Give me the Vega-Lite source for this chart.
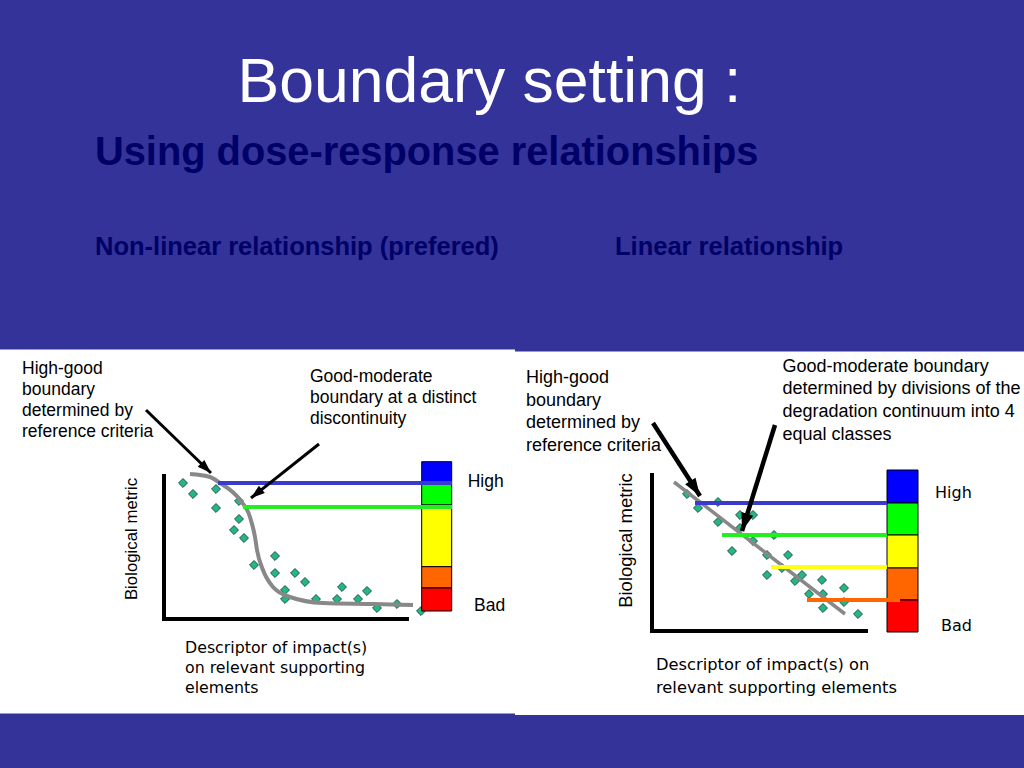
{
  "$schema": "https://vega.github.io/schema/vega-lite/v6.json",
  "width": 1024,
  "height": 768,
  "padding": 0,
  "autosize": "none",
  "background": "#333399",
  "config": {"view": {"stroke": null}},
  "datasets": {
    "panels": [
      {"x": 0, "x2": 515, "y": 349.5, "y2": 713.5},
      {"x": 515, "x2": 1024, "y": 351.5, "y2": 715}
    ],
    "axes": [
      {"x": 164, "x2": 164, "y": 474, "y2": 621},
      {"x": 162, "x2": 409, "y": 619, "y2": 619},
      {"x": 652, "x2": 652, "y": 473, "y2": 633},
      {"x": 650, "x2": 868, "y": 631, "y2": 631}
    ],
    "scatter": [
      {"x": 183, "y": 483}, {"x": 193, "y": 494}, {"x": 216, "y": 489}, {"x": 216, "y": 508},
      {"x": 239, "y": 501}, {"x": 239, "y": 519}, {"x": 234, "y": 530}, {"x": 244, "y": 538},
      {"x": 254, "y": 565}, {"x": 275, "y": 556}, {"x": 275, "y": 573}, {"x": 295, "y": 573},
      {"x": 305, "y": 582}, {"x": 285, "y": 590}, {"x": 285, "y": 599}, {"x": 316, "y": 599},
      {"x": 337, "y": 599}, {"x": 342, "y": 587}, {"x": 358, "y": 599}, {"x": 367, "y": 591},
      {"x": 377, "y": 608}, {"x": 397, "y": 604}, {"x": 421, "y": 611},
      {"x": 687, "y": 494}, {"x": 698, "y": 508}, {"x": 718, "y": 502}, {"x": 718, "y": 522},
      {"x": 740, "y": 515}, {"x": 753, "y": 515}, {"x": 740, "y": 528}, {"x": 732, "y": 551},
      {"x": 753, "y": 541}, {"x": 774, "y": 535}, {"x": 767, "y": 555}, {"x": 788, "y": 555},
      {"x": 782, "y": 568}, {"x": 767, "y": 575}, {"x": 795, "y": 581}, {"x": 802, "y": 575},
      {"x": 822, "y": 580}, {"x": 809, "y": 594}, {"x": 823, "y": 594}, {"x": 844, "y": 588},
      {"x": 844, "y": 602}, {"x": 823, "y": 608}, {"x": 858, "y": 614}
    ],
    "curveLeft": [
      {"x": 190, "y": 474}, {"x": 210, "y": 477}, {"x": 220, "y": 483}, {"x": 240, "y": 500},
      {"x": 250, "y": 517}, {"x": 255, "y": 537}, {"x": 257, "y": 550}, {"x": 263, "y": 570},
      {"x": 273, "y": 587}, {"x": 290, "y": 597}, {"x": 323, "y": 603}, {"x": 373, "y": 604},
      {"x": 413, "y": 605}
    ],
    "lineRight": [
      {"x": 674, "y": 482}, {"x": 845, "y": 614}
    ],
    "bars": [
      {"cls": "High", "x": 421.7, "x2": 451.7, "y": 461.7, "y2": 483},
      {"cls": "Good", "x": 421.7, "x2": 451.7, "y": 483, "y2": 505},
      {"cls": "Moderate", "x": 421.7, "x2": 451.7, "y": 505, "y2": 566.7},
      {"cls": "Poor", "x": 421.7, "x2": 451.7, "y": 566.7, "y2": 588},
      {"cls": "Bad", "x": 421.7, "x2": 451.7, "y": 588, "y2": 611},
      {"cls": "High", "x": 887, "x2": 918, "y": 470, "y2": 503},
      {"cls": "Good", "x": 887, "x2": 918, "y": 503, "y2": 535},
      {"cls": "Moderate", "x": 887, "x2": 918, "y": 535, "y2": 568},
      {"cls": "Poor", "x": 887, "x2": 918, "y": 568, "y2": 600},
      {"cls": "Bad", "x": 887, "x2": 918, "y": 600, "y2": 632}
    ],
    "boundaries": [
      {"b": "High-good", "x": 218, "x2": 452, "y": 483},
      {"b": "Good-moderate", "x": 243, "x2": 452, "y": 507},
      {"b": "High-good", "x": 695, "x2": 887, "y": 503},
      {"b": "Good-moderate", "x": 722, "x2": 887, "y": 535},
      {"b": "Moderate-poor", "x": 771, "x2": 887, "y": 567},
      {"b": "Poor-bad", "x": 807, "x2": 900, "y": 600}
    ],
    "arrows": [
      {"panel": "left", "x": 146, "y": 410, "x2": 211, "y2": 473},
      {"panel": "left", "x": 319, "y": 444, "x2": 251, "y2": 498},
      {"panel": "right", "x": 653, "y": 423, "x2": 700, "y2": 496},
      {"panel": "right", "x": 775, "y": 425, "x2": 742, "y2": 531}
    ],
    "title": [{"text": "Boundary setting :", "x": 489.5, "y": 102}],
    "subtitle": [{"text": "Using dose-response relationships", "x": 95, "y": 165}],
    "headings": [
      {"text": "Non-linear relationship (prefered)", "x": 95, "y": 255},
      {"text": "Linear relationship", "x": 615, "y": 255}
    ],
    "notesLeft": [
      {"text": "High-good|boundary|determined by|reference criteria", "x": 22, "y": 359.5},
      {"text": "Good-moderate|boundary at a distinct|discontinuity", "x": 310, "y": 368}
    ],
    "notesRight": [
      {"text": "High-good|boundary|determined by|reference criteria", "x": 526, "y": 369},
      {"text": "Good-moderate boundary|determined by divisions of the|degradation continuum into 4|equal classes", "x": 782.5, "y": 357.5}
    ],
    "xLabelLeft": [{"text": "Descriptor of impact(s)|on relevant supporting|elements", "x": 185, "y": 640.5}],
    "xLabelRight": [{"text": "Descriptor of impact(s) on|relevant supporting elements", "x": 656, "y": 656.5}],
    "endsLeft": [
      {"text": "High", "x": 467.7, "y": 486.7},
      {"text": "Bad", "x": 474, "y": 610.7}
    ],
    "endsRight": [
      {"text": "High", "x": 935, "y": 497.7},
      {"text": "Bad", "x": 941, "y": 631}
    ],
    "yLabelLeft": [{"text": "Biological metric", "x": 136.5, "y": 539}],
    "yLabelRight": [{"text": "Biological metric", "x": 631.5, "y": 540.5}]
  },
  "encoding": {
    "x": {"field": "x", "type": "quantitative", "scale": {"domain": [0, 1024], "nice": false, "zero": false}, "axis": null},
    "y": {"field": "y", "type": "quantitative", "scale": {"domain": [0, 768], "nice": false, "zero": false, "reverse": true}, "axis": null}
  },
  "layer": [
    {
      "data": {"name": "panels"},
      "mark": {"type": "rect", "fill": "#ffffff"},
      "encoding": {"x2": {"field": "x2"}, "y2": {"field": "y2"}}
    },
    {
      "data": {"name": "axes"},
      "mark": {"type": "rule", "color": "#000000", "strokeWidth": 4},
      "encoding": {"x2": {"field": "x2"}, "y2": {"field": "y2"}}
    },
    {
      "data": {"name": "scatter"},
      "mark": {"type": "point", "shape": "diamond", "filled": true, "size": 80, "color": "#26b58a", "stroke": "#124a33", "strokeWidth": 0.9, "opacity": 1}
    },
    {
      "data": {"name": "curveLeft"},
      "mark": {"type": "line", "color": "#888888", "strokeWidth": 4, "interpolate": "monotone"},
      "encoding": {}
    },
    {
      "data": {"name": "lineRight"},
      "mark": {"type": "line", "color": "#888888", "strokeWidth": 3.5},
      "encoding": {}
    },
    {
      "data": {"name": "bars"},
      "mark": {"type": "rect", "stroke": "#000000", "strokeWidth": 1},
      "encoding": {
        "x2": {"field": "x2"},
        "y2": {"field": "y2"},
        "fill": {"field": "cls", "type": "nominal", "legend": null,
          "scale": {"domain": ["High", "Good", "Moderate", "Poor", "Bad"], "range": ["#0000ff", "#00ff00", "#ffff00", "#ff6600", "#ff0000"]}}
      }
    },
    {
      "data": {"name": "boundaries"},
      "mark": {"type": "rule", "strokeWidth": 4},
      "encoding": {
        "x2": {"field": "x2"},
        "stroke": {"field": "b", "type": "nominal", "legend": null,
          "scale": {"domain": ["High-good", "Good-moderate", "Moderate-poor", "Poor-bad"], "range": ["#3a3acc", "#22ee22", "#ffff11", "#ff6600"]}}
      }
    },
    {
      "data": {"name": "arrows"},
      "transform": [{"filter": "datum.panel === 'left'"}],
      "mark": {"type": "rule", "color": "#000000", "strokeWidth": 3},
      "encoding": {"x2": {"field": "x2"}, "y2": {"field": "y2"}}
    },
    {
      "data": {"name": "arrows"},
      "transform": [{"filter": "datum.panel === 'right'"}],
      "mark": {"type": "rule", "color": "#000000", "strokeWidth": 4.5},
      "encoding": {"x2": {"field": "x2"}, "y2": {"field": "y2"}}
    },
    {
      "data": {"name": "arrows"},
      "transform": [
        {"filter": "datum.panel === 'left'"},
        {"calculate": "atan2(datum.x2 - datum.x, datum.y - datum.y2) * 180 / PI", "as": "ang"}
      ],
      "mark": {"type": "point", "shape": "M0,0L0.55,1.6L-0.55,1.6Z", "filled": true, "size": 300, "color": "#000000", "opacity": 1},
      "encoding": {
        "x": {"field": "x2", "type": "quantitative"},
        "y": {"field": "y2", "type": "quantitative"},
        "angle": {"field": "ang", "type": "quantitative", "scale": null}
      }
    },
    {
      "data": {"name": "arrows"},
      "transform": [
        {"filter": "datum.panel === 'right'"},
        {"calculate": "atan2(datum.x2 - datum.x, datum.y - datum.y2) * 180 / PI", "as": "ang"}
      ],
      "mark": {"type": "point", "shape": "M0,0L0.55,1.6L-0.55,1.6Z", "filled": true, "size": 500, "color": "#000000", "opacity": 1},
      "encoding": {
        "x": {"field": "x2", "type": "quantitative"},
        "y": {"field": "y2", "type": "quantitative"},
        "angle": {"field": "ang", "type": "quantitative", "scale": null}
      }
    },
    {
      "data": {"name": "title"},
      "mark": {"type": "text", "font": "Liberation Sans", "fontSize": 62.5, "color": "#ffffff", "align": "center", "baseline": "alphabetic"},
      "encoding": {"text": {"field": "text"}}
    },
    {
      "data": {"name": "subtitle"},
      "mark": {"type": "text", "font": "Liberation Sans", "fontSize": 39.8, "fontWeight": "bold", "color": "#000066", "align": "left", "baseline": "alphabetic"},
      "encoding": {"text": {"field": "text"}}
    },
    {
      "data": {"name": "headings"},
      "mark": {"type": "text", "font": "Liberation Sans", "fontSize": 25.5, "fontWeight": "bold", "color": "#000066", "align": "left", "baseline": "alphabetic"},
      "encoding": {"text": {"field": "text"}}
    },
    {
      "data": {"name": "notesLeft"},
      "mark": {"type": "text", "font": "Liberation Sans", "fontSize": 17.5, "lineHeight": 21.2, "lineBreak": "|", "color": "#000000", "align": "left", "baseline": "top"},
      "encoding": {"text": {"field": "text"}}
    },
    {
      "data": {"name": "notesRight"},
      "mark": {"type": "text", "font": "Liberation Sans", "fontSize": 18, "lineHeight": 22.7, "lineBreak": "|", "color": "#000000", "align": "left", "baseline": "top"},
      "encoding": {"text": {"field": "text"}}
    },
    {
      "data": {"name": "xLabelLeft"},
      "mark": {"type": "text", "font": "DejaVu Sans", "fontSize": 15.8, "lineHeight": 20, "lineBreak": "|", "color": "#000000", "align": "left", "baseline": "top"},
      "encoding": {"text": {"field": "text"}}
    },
    {
      "data": {"name": "xLabelRight"},
      "mark": {"type": "text", "font": "DejaVu Sans", "fontSize": 16.3, "lineHeight": 23.3, "lineBreak": "|", "color": "#000000", "align": "left", "baseline": "top"},
      "encoding": {"text": {"field": "text"}}
    },
    {
      "data": {"name": "endsLeft"},
      "mark": {"type": "text", "font": "Liberation Sans", "fontSize": 17.5, "color": "#000000", "align": "left", "baseline": "alphabetic"},
      "encoding": {"text": {"field": "text"}}
    },
    {
      "data": {"name": "endsRight"},
      "mark": {"type": "text", "font": "DejaVu Sans", "fontSize": 16, "color": "#000000", "align": "left", "baseline": "alphabetic"},
      "encoding": {"text": {"field": "text"}}
    },
    {
      "data": {"name": "yLabelLeft"},
      "mark": {"type": "text", "font": "Liberation Sans", "fontSize": 16.8, "angle": 270, "color": "#000000", "align": "center", "baseline": "alphabetic"},
      "encoding": {"text": {"field": "text"}}
    },
    {
      "data": {"name": "yLabelRight"},
      "mark": {"type": "text", "font": "Liberation Sans", "fontSize": 18.5, "angle": 270, "color": "#000000", "align": "center", "baseline": "alphabetic"},
      "encoding": {"text": {"field": "text"}}
    }
  ]
}
